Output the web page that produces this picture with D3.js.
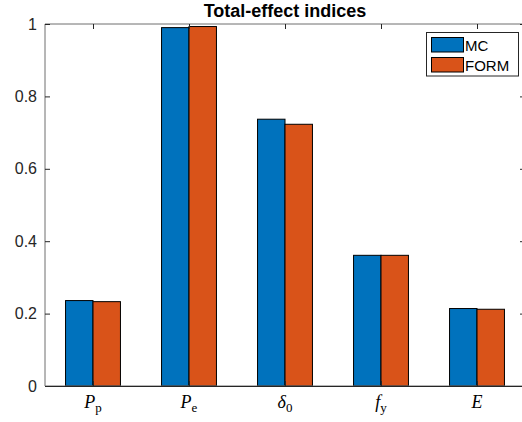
<!DOCTYPE html>
<html><head><meta charset="utf-8">
<script src="https://cdn.jsdelivr.net/npm/d3@7"></script>
<style>body{margin:0;background:#fff}svg{display:block}</style>
</head><body>
<script>
const categories = [
  {base:"P", sub:"p"},
  {base:"P", sub:"e"},
  {base:"δ", sub:"0"},
  {base:"f", sub:"y"},
  {base:"E", sub:""}
];
const seriesNames = ["MC","FORM"];
const mcValues   = [0.236, 0.990, 0.737, 0.361, 0.214];
const formValues = [0.233, 0.993, 0.723, 0.361, 0.212];
const yTicks = [0, 0.2, 0.4, 0.6, 0.8, 1];
const yTickLabels = ["0","0.2","0.4","0.6","0.8","1"];
const colors = ["#0072BD","#D95319"];
const title = "Total-effect indices";

const W = 522, H = 422;
const pLeft = 45, pRight = 525, pTop = 24, pBottom = 386;
const sans = "'Liberation Sans', Arial, Helvetica, sans-serif";
const serif = "'Liberation Serif', 'Times New Roman', Times, serif";
const svg = d3.select("body").append("svg").attr("width", W).attr("height", H);

const x = d3.scaleLinear().domain([0.5, categories.length + 0.5]).range([pLeft, pRight]);
const y = d3.scaleLinear().domain([0, 1]).range([pBottom, pTop]);
const barW = (x(1) - x(0)) * 0.286;

const series = [mcValues, formValues];
series.forEach((vals, s) => {
  svg.append("g").selectAll("rect").data(vals).join("rect")
    .attr("x", (d, i) => x(i + 1) + (s === 0 ? -barW : 0))
    .attr("y", d => y(d))
    .attr("width", barW)
    .attr("height", d => y(0) - y(d))
    .attr("fill", colors[s])
    .attr("stroke", "#000")
    .attr("stroke-width", 1);
});

const axisColor = "#262626";
const g = svg.append("g").attr("stroke-width", 1).attr("fill", "none");
g.append("path").attr("d", `M${pLeft},${pTop}H${pRight}V${pBottom}H${pLeft}Z`).attr("stroke", "#6e6e6e");

const yAx = d3.axisLeft(y).tickValues(yTicks).tickFormat((d, i) => yTickLabels[i]).tickSizeInner(-5).tickSizeOuter(0).tickPadding(8);
const ya = svg.append("g").attr("transform", `translate(${pLeft},0)`).call(yAx);
ya.select(".domain").remove();
ya.selectAll("line").attr("stroke", axisColor);
ya.selectAll("text").attr("font-family", sans).attr("font-size", 16).attr("fill", axisColor);
const yR = d3.axisRight(y).tickValues(yTicks).tickFormat("").tickSizeInner(-5).tickSizeOuter(0);
const yr = svg.append("g").attr("transform", `translate(${pRight},0)`).call(yR);
yr.select(".domain").remove();
yr.selectAll("line").attr("stroke", axisColor);

const xT = d3.axisTop(x).tickValues(d3.range(1, categories.length + 1)).tickFormat("").tickSizeInner(-5).tickSizeOuter(0);
const xt = svg.append("g").attr("transform", `translate(0,${pTop})`).call(xT);
xt.select(".domain").remove();
xt.selectAll("line").attr("stroke", axisColor);
const xB = d3.axisBottom(x).tickValues(d3.range(1, categories.length + 1)).tickFormat("").tickSizeInner(-5).tickSizeOuter(0);
const xb = svg.append("g").attr("transform", `translate(0,${pBottom})`).call(xB);
xb.select(".domain").attr("stroke", axisColor);
xb.selectAll("line").attr("stroke", axisColor);

categories.forEach((c, i) => {
  const t = svg.append("text").attr("x", x(i + 1)).attr("y", 408)
    .attr("text-anchor", "middle")
    .attr("font-family", serif)
    .attr("font-size", 18).attr("fill", "#000");
  t.append("tspan").attr("font-style", "italic").text(c.base);
  if (c.sub) t.append("tspan").attr("font-size", 13).attr("dy", 4).text(c.sub);
});

svg.append("text").attr("x", (pLeft + pRight) / 2).attr("y", 17)
  .attr("text-anchor", "middle").attr("font-family", sans)
  .attr("font-weight", "bold").attr("font-size", 18).attr("fill", "#000").text(title);

const lg = svg.append("g");
lg.append("rect").attr("x", 426.5).attr("y", 32.5).attr("width", 92).attr("height", 43.5)
  .attr("fill", "#fff").attr("stroke", "#262626").attr("stroke-width", 1);
seriesNames.forEach((n, i) => {
  lg.append("rect").attr("x", 431.5).attr("y", 37.5 + i * 20).attr("width", 32).attr("height", 14.5)
    .attr("fill", colors[i]).attr("stroke", "#000");
  lg.append("text").attr("x", 465).attr("y", 50.5 + i * 20)
    .attr("font-family", sans).attr("font-size", 15).attr("fill", "#000").text(n);
});
</script>
</body></html>
